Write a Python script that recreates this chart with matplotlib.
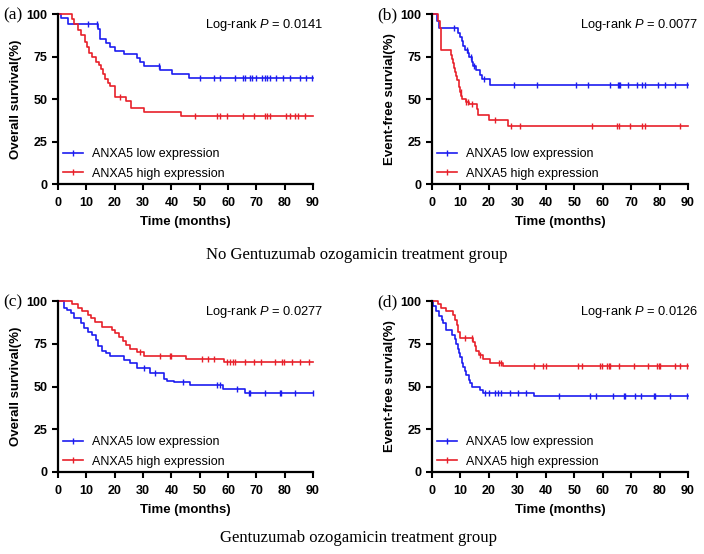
import numpy as np
import matplotlib
matplotlib.use("Agg")
import matplotlib.pyplot as plt
from matplotlib.lines import Line2D

plt.rcParams['font.family'] = 'Liberation Sans'
plt.rcParams['mathtext.fontset'] = 'custom'
plt.rcParams['mathtext.rm'] = 'Liberation Sans'
plt.rcParams['mathtext.it'] = 'Liberation Sans:italic'

BLUE = '#1c1cf0'
RED = '#e8202a'

# ---- data: step times (months) and survival (%) after each step ----
# (a) overall survival, no GO
a_low_t = [0, 1.2, 3.5, 14.0, 14.9, 17.1, 18.5, 20.2, 23.2, 27.9, 29.1, 30.2, 36.1, 40.2, 46.1]
a_low_s = [100, 97.5, 94, 91, 85.1, 83.1, 80.8, 78.4, 76.5, 73.9, 72, 69.6, 67.1, 64.7, 62.4]
a_low_c = [10.5, 13.8, 35.5, 50.2, 55, 57, 62.6, 65.2, 65.9, 67.9, 68.5, 70, 72, 73.2, 73.8,
           74.7, 77, 79.4, 82, 85.3, 87.6, 89.6]
a_high_t = [0, 5.0, 5.8, 7.0, 8.0, 9.5, 10.3, 11.0, 12.0, 13.5, 14.5, 15.0, 15.8, 16.5, 17.5,
            18.5, 20.0, 24.0, 25.8, 30.5, 43.5]
a_high_s = [100, 97, 94, 90.5, 87.5, 83.5, 80.5, 77, 74.5, 72, 70, 67.5, 64.5, 62, 59.5,
            57.5, 51, 49, 45, 42.5, 40.2]
a_high_c = [21.8, 48.5, 56, 57.3, 59.6, 65.2, 69.3, 73.2, 73.8, 74.7, 80.6, 81.8, 83.8, 84.7, 87.3]

# (b) event-free survival, no GO
b_low_t = [0, 1.6, 2.4, 9.3, 10.0, 10.5, 11.0, 11.5, 12.5, 13.0, 14.0, 14.5, 15.5, 17.0, 17.5, 20.3]
b_low_s = [100, 96, 91.7, 89, 86.5, 84, 81, 79, 77, 74.5, 72, 69.5, 67, 64, 61.5, 58.5]
b_low_c = [7.9, 12.2, 13.6, 14.9, 18.4, 28.9, 36.9, 50.6, 55, 62.7, 65.3, 65.7, 66.2, 68.9,
           72, 73.8, 74.8, 79.5, 81.8, 85.3, 89.7]
b_high_t = [0, 2.0, 2.8, 3.3, 6.8, 7.0, 7.5, 7.8, 8.2, 8.5, 8.8, 9.5, 9.6, 9.8, 10.2, 10.5,
            11.8, 13.0, 15.7, 16.0, 20.0, 26.8]
b_high_s = [100, 96, 91.5, 79, 76, 73.5, 71, 68.5, 66, 63.5, 61, 59.5, 57, 54, 52, 50,
            48, 47, 44, 40.5, 37.7, 34.3]
b_high_c = [10.1, 12, 12.8, 14.2, 22.2, 27.8, 31, 56.2, 65, 65.6, 69.5, 73.8, 75, 87.3]

# (c) overall survival, GO
c_low_t = [0, 2.0, 2.2, 3.0, 4.5, 5.5, 8.0, 9.0, 10.5, 12.0, 13.5, 14.0, 15.5, 17.0, 18.5,
           23.2, 25.5, 27.9, 32.4, 37.5, 38.5, 40.8, 46.7, 58.2, 66.0]
c_low_s = [100, 98, 96, 94.5, 93, 90, 87, 84, 82, 80, 77, 73.5, 71, 69.5, 68,
           65.6, 63.6, 60.7, 57.8, 54.3, 53.3, 52.5, 51, 48.4, 46.3]
c_low_c = [30.2, 34.4, 44.1, 56.1, 57.3, 63.2, 67.3, 67.9, 73.2, 78.2, 78.8, 83.8, 90]
c_high_t = [0, 5.0, 7.0, 8.5, 10.5, 11.5, 13.0, 15.5, 19.0, 20.0, 21.5, 23.0, 24.0, 25.5,
            28.0, 30.5, 45.0, 58.5]
c_high_s = [100, 98, 96, 94, 92, 90, 87.5, 85, 83, 81, 79, 76.5, 74, 72,
            70, 68, 66.1, 64.6]
c_high_c = [29, 35.9, 39.4, 40, 50.8, 52.8, 55.2, 59.6, 60.6, 61.6, 62.6, 65.9, 69.3, 71.6,
            76.5, 79, 79.9, 82.6, 85.5, 88.5]

# (d) event-free survival, GO
d_low_t = [0, 0.5, 1.5, 2.5, 3.5, 4.0, 5.0, 7.0, 8.0, 8.5, 9.0, 9.5, 10.0, 10.5, 11.0, 11.5,
           12.0, 13.0, 13.5, 14.0, 17.0, 18.0, 36.0]
d_low_s = [100, 97, 94, 91, 89, 87, 83, 80, 78, 75, 72, 69.5, 67, 64, 61.5, 59,
           56.5, 54, 52, 50, 48, 46.2, 44.5]
d_low_c = [18.7, 20, 22, 23.1, 24.3, 27.5, 30.4, 33.1, 44.5, 55.6, 57.6, 63.5, 67.4, 68,
           71.3, 73.6, 77.9, 78.5, 83.8, 89.7]
d_high_t = [0, 2.0, 3.0, 5.0, 7.5, 8.0, 8.8, 9.3, 10.0, 14.3, 15.0, 15.5, 16.5, 18.0, 20.5, 25.0]
d_high_s = [100, 98, 96, 94, 92, 89, 86, 82, 78.5, 76, 73.5, 71, 68.5, 66, 64, 61.8]
d_high_c = [11.6, 14, 16.9, 23.4, 24.3, 35.7, 38.9, 40, 51.3, 52.9, 59.2, 59.7, 61.5, 62.1,
            62.7, 65.6, 70.9, 76, 79.1, 79.7, 80.3, 85.6, 87.3, 89.7]

panels = [
    ('(a)', 'Overall survival(%)', '0.0141', a_low_t, a_low_s, a_low_c, a_high_t, a_high_s, a_high_c),
    ('(b)', 'Event-free survial(%)', '0.0077', b_low_t, b_low_s, b_low_c, b_high_t, b_high_s, b_high_c),
    ('(c)', 'Overall survival(%)', '0.0277', c_low_t, c_low_s, c_low_c, c_high_t, c_high_s, c_high_c),
    ('(d)', 'Event-free survial(%)', '0.0126', d_low_t, d_low_s, d_low_c, d_high_t, d_high_s, d_high_c),
]

W, H = 704, 554
fig = plt.figure(figsize=(W / 100, H / 100), dpi=100)

# axes boxes in pixels: left, top, right, bottom
boxes = [(58, 14, 313, 184), (432, 14, 688, 184), (58, 301, 313, 472), (432, 301, 688, 472)]


def km(ax, t, s, c, color, label):
    t = np.array(t + [90.0])
    s = np.array(s + [s[-1]])
    ax.step(t, s, where='post', color=color, lw=1.2, clip_on=False, label=label)
    c = np.array(c)
    idx = np.searchsorted(t, c, side='right') - 1
    ax.plot(c, s[idx], ls='none', marker='|', ms=4.5, mew=1.0, color=color, clip_on=False)


for (tag, ylab, p, lt, ls_, lc, ht, hs, hc), (l, t, r, b) in zip(panels, boxes):
    ax = fig.add_axes([l / W, 1 - b / H, (r - l) / W, (b - t) / H])
    km(ax, lt, ls_, lc, BLUE, 'ANXA5 low expression')
    km(ax, ht, hs, hc, RED, 'ANXA5 high expression')
    ax.set_xlim(0, 90)
    ax.set_ylim(0, 100)
    ax.set_xticks(range(0, 91, 10))
    ax.set_yticks([0, 25, 50, 75, 100])
    for sp in ['top', 'right']:
        ax.spines[sp].set_visible(False)
    for sp in ['left', 'bottom']:
        ax.spines[sp].set_linewidth(1.6)
    ax.tick_params(width=1.5, length=4.5, labelsize=9, pad=3)
    ax.tick_params(axis='x', pad=5)
    for lbl in ax.get_xticklabels() + ax.get_yticklabels():
        lbl.set_fontweight('bold')
    ax.set_xlabel('Time (months)', fontsize=9.5, fontweight='bold', labelpad=5)
    ax.set_ylabel(ylab, fontsize=9.5, fontweight='bold', labelpad=3)
    ax.text(1.04, 0.935, r'Log-rank $\it{P}$ = ' + p, transform=ax.transAxes,
            ha='right', va='center', fontsize=9.3)
    handles = [Line2D([0], [0], color=BLUE, lw=1.2, marker='|', ms=4.5, mew=1.0),
               Line2D([0], [0], color=RED, lw=1.2, marker='|', ms=4.5, mew=1.0)]
    ax.legend(handles, ['ANXA5 low expression', 'ANXA5 high expression'],
              loc='lower left', bbox_to_anchor=(-0.015, -0.025), frameon=False,
              fontsize=9.0, handlelength=1.6, handletextpad=0.7, labelspacing=0.6,
              borderaxespad=0.3)
    fig.text((l - 55) / W, 1 - (t + 1) / H, tag, family='Liberation Serif',
             fontsize=12.5, ha='left', va='center')

fig.text(357 / W, 1 - 255 / H, 'No Gentuzumab ozogamicin treatment group',
         family='Liberation Serif', fontsize=12, ha='center', va='center')
fig.text(358 / W, 1 - 538 / H, 'Gentuzumab ozogamicin treatment group',
         family='Liberation Serif', fontsize=12, ha='center', va='center')

fig.savefig('out.png', dpi=100)
